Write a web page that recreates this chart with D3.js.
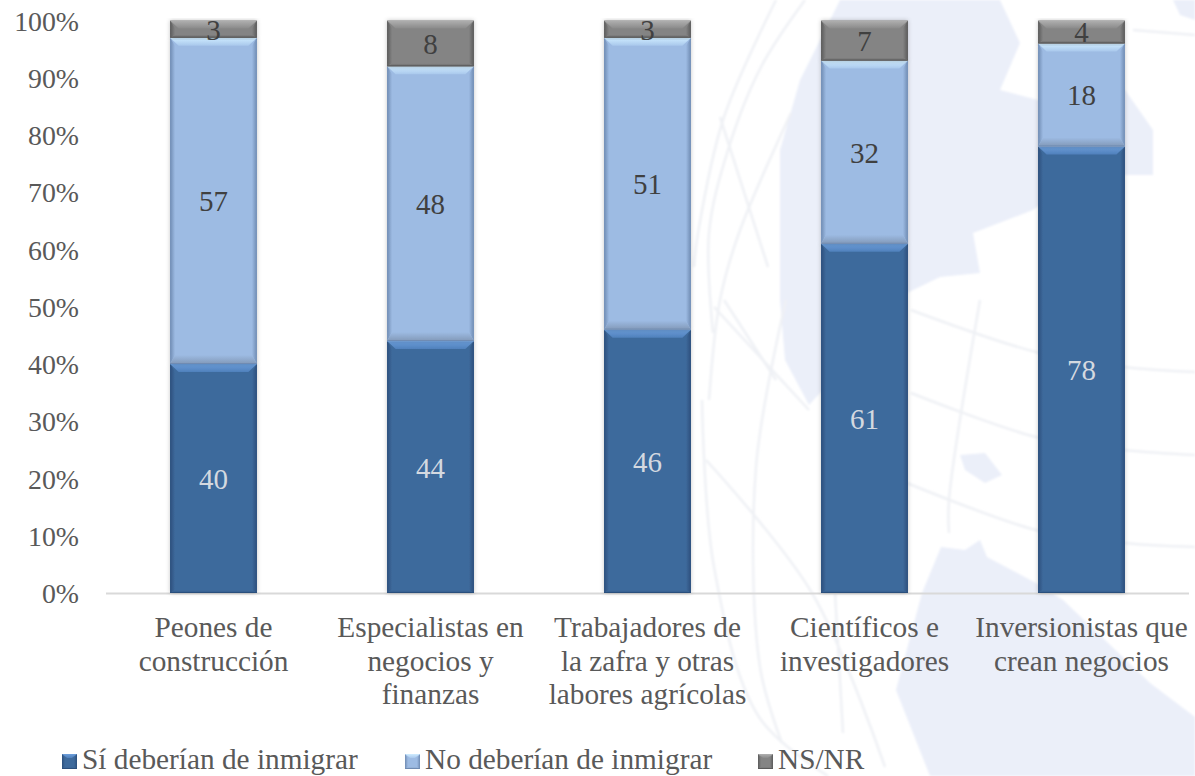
<!DOCTYPE html>
<html><head><meta charset="utf-8">
<style>html,body{margin:0;padding:0;background:#fff}svg{display:block}text{font-family:"Liberation Serif","Times New Roman",serif}</style>
<script src="https://cdn.jsdelivr.net/npm/d3@7/dist/d3.min.js"></script></head>
<body><svg id="c" width="1195" height="776"></svg>
<script>
const categories=[["Peones de","construcción"],["Especialistas en","negocios y","finanzas"],["Trabajadores de","la zafra y otras","labores agrícolas"],["Científicos e","investigadores"],["Inversionistas que","crean negocios"]];
const si=[40,44,46,61,78];
const no=[57,48,51,32,18];
const ns=[3,8,3,7,4];
const seriesNames=["Sí deberían de inmigrar","No deberían de inmigrar","NS/NR"];
const yTicks=[0,10,20,30,40,50,60,70,80,90,100];
const fills=["#3e6a9c","#9dbbe3","#848484"];
const tops=["#6d9fdc","#cfecff","#b0b0b0"];
const topEnds=["#4f80bb","#a9c8ec","#8a8a8a"];
const bottoms=["#335a8a","#8299b8","#686868"];
const sides=["#2c4f7c","#6f8bb2","#5a5a5a"];
const labelCol=["#d4d9e0","#404040","#404040"];
const bottomBevel=[3,9,3];
// faint world-map watermark behind the chart
const landAreas=[
 [[840,0],[1000,0],[1020,43],[1000,90],[1038,100],[1125,90],[1153,130],[1153,175],[1125,175],[1060,190],[1033,210],[973,233],[980,273],[940,277],[907,293],[860,350],[809,405],[785,360],[780,300],[780,150],[800,80],[820,40]],
 [[941,547],[965,550],[980,540],[987,557],[1036,583],[1063,600],[1150,683],[1195,717],[1195,776],[930,776],[896,690],[922,593]],
 [[960,455],[985,453],[1002,475],[985,483],[965,470]],
 [[1173,0],[1195,0],[1195,20],[1180,15]]
];
const mapLines=[
 [[911,310],[1036,352],[1124,367],[1195,372]],
 [[911,393],[1036,437],[1124,450],[1195,455]],
 [[907,483],[1036,530],[1124,543],[1195,547]],
 [[980,300],[949,500],[949,533]],
 [[714,307],[809,410]],
 [[706,460],[812,593],[885,767]],
 [[786,300],[756,467],[760,667],[782,743]],
 [[702,400],[714,567],[759,717],[828,776]],
 [[835,593],[843,733]],
 [[776,0],[724,117],[698,233],[694,267]],
 [[805,0],[761,67],[728,150],[709,233],[713,333]],
 [[720,117],[768,267]],
 [[791,113],[739,233],[720,300],[709,400]],
 [[724,300],[776,380]],
 [[1133,30],[1195,35]]
];

const svg=d3.select("#c");
const y=d3.scaleLinear().domain([0,100]).range([593,20.5]);
const x=d3.scaleBand().domain(d3.range(categories.length)).range([105,1190]).paddingInner(0.6).paddingOuter(0.3);
const defs=svg.append("defs");
const f=defs.append("filter").attr("id","sh").attr("x","-10%").attr("width","120%");
f.append("feDropShadow").attr("dx",0).attr("dy",0).attr("stdDeviation",2).attr("flood-color","#000").attr("flood-opacity",.22);
defs.append("filter").attr("id","soft").append("feGaussianBlur").attr("stdDeviation",1);
const grad=(id,x2,y2,c1,c2)=>{const g=defs.append("linearGradient").attr("id",id).attr("x1",0).attr("y1",0).attr("x2",x2).attr("y2",y2);
  g.append("stop").attr("offset",0).attr("stop-color",c1);g.append("stop").attr("offset",1).attr("stop-color",c2);};
fills.forEach((c,k)=>{
  grad("top"+k,0,1,tops[k],topEnds[k]);
  grad("bot"+k,0,1,c,bottoms[k]);
  grad("left"+k,1,0,sides[k],c);
  grad("right"+k,1,0,c,sides[k]);
});
const bg=svg.append("g").attr("filter","url(#soft)");
bg.selectAll("path.l").data(landAreas).join("path").attr("class","l").attr("d",d3.line().curve(d3.curveLinearClosed)).attr("fill","#ebeff9");
bg.selectAll("path.m").data(mapLines).join("path").attr("class","m").attr("d",d3.line().curve(d3.curveCatmullRom)).attr("fill","none").attr("stroke","#eff1f5").attr("stroke-width",2.5);

yTicks.forEach(t=>svg.append("text").attr("x",79).attr("y",y(t)+10).attr("text-anchor","end").attr("font-size",27.8).attr("fill","#595959").text(t+"%"));
svg.append("line").attr("x1",106).attr("x2",1189).attr("y1",593.5).attr("y2",593.5).attr("stroke","#d9d9d9").attr("stroke-width",2);

function bevel(g,x0,y0,w,h,k,tb,bb,ins){
  const fr=(pts,col)=>g.append("polygon").attr("points",pts.map(p=>p.join(",")).join(" ")).attr("fill",col);
  g.append("rect").attr("x",x0).attr("y",y0).attr("width",w).attr("height",h).attr("fill",fills[k]);
  const x1=x0+w,y1=y0+h;
  tb=Math.min(tb,h/2);bb=Math.min(bb,h/2);
  fr([[x0,y0],[x0+ins,y0+tb],[x0+ins,y1-bb],[x0,y1]],`url(#left${k})`);
  fr([[x1,y0],[x1-ins,y0+tb],[x1-ins,y1-bb],[x1,y1]],`url(#right${k})`);
  fr([[x0,y1],[x1,y1],[x1-ins,y1-bb],[x0+ins,y1-bb]],`url(#bot${k})`);
  fr([[x0,y0],[x1,y0],[x1-ins*1.7,y0+tb],[x0+ins*1.7,y0+tb]],`url(#top${k})`);
  g.append("line").attr("x1",x0).attr("x2",x1).attr("y1",y1-.5).attr("y2",y1-.5).attr("stroke",sides[k]).attr("stroke-width",1);
}
const stacks=d3.stack().keys([0,1,2]).value((d,k)=>d[k])(d3.range(5).map(i=>[si[i],no[i],ns[i]]));
stacks.forEach((s,k)=>s.forEach((d,i)=>{
  const g=svg.append("g").attr("filter","url(#sh)");
  bevel(g,x(i),y(d[1]),x.bandwidth(),y(d[0])-y(d[1]),k,8,bottomBevel[k],5);
}));
stacks.forEach((s,k)=>s.forEach((d,i)=>{
  svg.append("text").attr("x",x(i)+x.bandwidth()/2).attr("y",(y(d[0])+y(d[1]))/2+10.5).attr("text-anchor","middle").attr("font-size",29).attr("fill",labelCol[k]).text(d[1]-d[0]);
}));
categories.forEach((c,i)=>c.forEach((t,j)=>svg.append("text").attr("x",x(i)+x.bandwidth()/2).attr("y",637+j*33.5).attr("text-anchor","middle").attr("font-size",29.3).attr("fill","#595959").text(t)));
const legX=[62,405,758];
seriesNames.forEach((n,k)=>{
  const g=svg.append("g");
  bevel(g,legX[k],754,15,15,k,4,2,3);
  g.append("text").attr("x",legX[k]+20).attr("y",769).attr("font-size",29.3).attr("fill","#595959").text(n);
});
</script></body></html>
